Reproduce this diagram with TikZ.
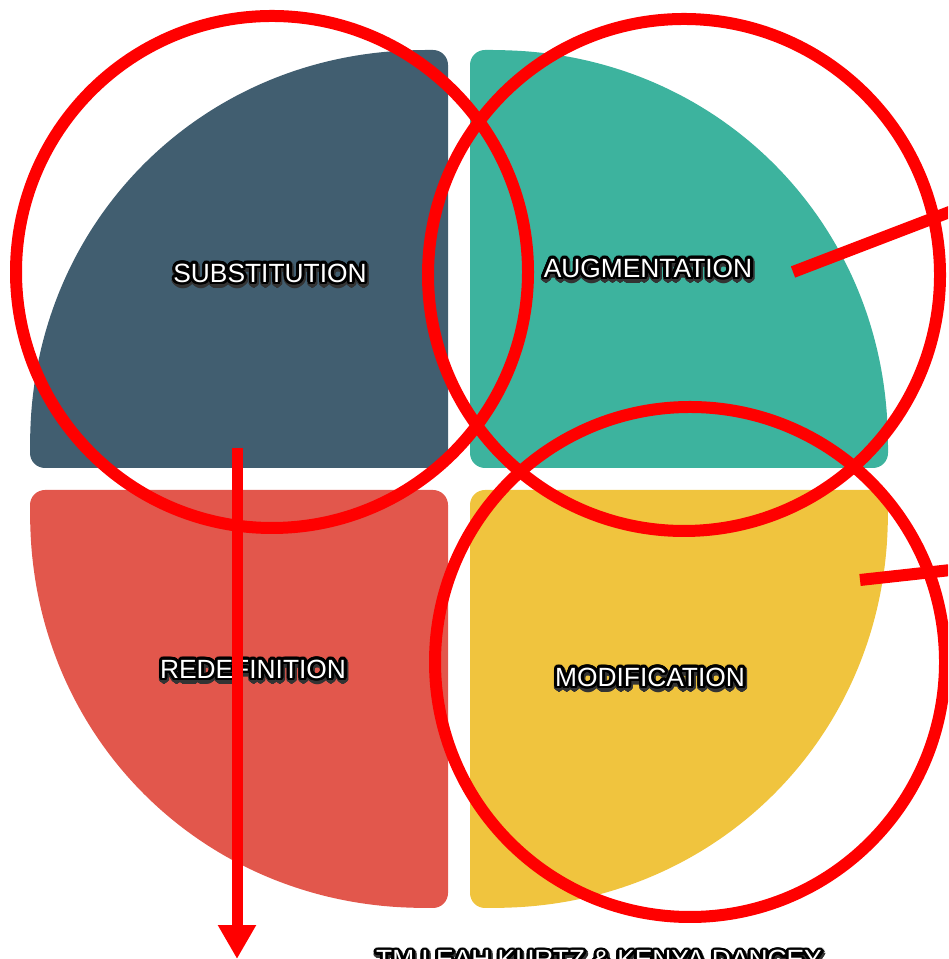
\documentclass[tikz,border=0pt]{standalone}
\usepackage{fontspec}
\setmainfont{Liberation Sans}
\usepackage{contour}
\contourlength{1.6pt}
\contournumber{24}
\usetikzlibrary{arrows.meta}
\definecolor{slate}{HTML}{415E70}
\definecolor{qteal}{HTML}{3DB39E}
\definecolor{qred}{HTML}{E2574C}
\definecolor{qyellow}{HTML}{F0C43E}
\definecolor{markred}{HTML}{FF0000}
\newcommand{\quadpath}{(0,0) -- (418,0) -- (418,35) .. controls (405,250) and (250,405) .. (35,418) -- (0,418) -- cycle}
\newcommand{\glowtext}[1]{\rlap{\raisebox{-1.2pt}{\hspace{0.4pt}\contourlength{2.2pt}\contournumber{16}\contour{black!80}{\textcolor{black!80}{#1}}}}\contour{black}{#1}}
\begin{document}
\begin{tikzpicture}[x=0.02cm,y=0.02cm,
  quad/.style={rounded corners=0.3cm},
  quadtext/.style={font=\fontsize{15}{18}\selectfont, text=white},
  ring/.style={draw=markred, line width=0.24cm}]
\useasboundingbox (0,0) rectangle (948,959);
\clip (0,0) rectangle (948,959);

\fill[slate, quad, shift={(448,491)}, xscale=-1] \quadpath;
\fill[qteal, quad, shift={(470,491)}] \quadpath;
\fill[qred, quad, shift={(448,469)}, xscale=-1, yscale=-1] \quadpath;
\fill[qyellow, quad, shift={(470,469)}, yscale=-1] \quadpath;

\node[quadtext] (subst) at (270,683) {\glowtext{SUBSTITUTION}};
\node[quadtext] (augm) at (648,688) {\glowtext{AUGMENTATION}};
\node[quadtext] (redef) at (253,287) {\glowtext{REDEFINITION}};
\node[quadtext] (modif) at (650,279) {\glowtext{MODIFICATION}};
\node[quadtext, anchor=base] (credit) at (599,-10) {\glowtext{TM LEAH KURTZ \& KENYA DANCEY}};

\draw[ring] (272,687) circle (256);
\draw[ring] (684,684) circle (256);
\draw[ring] (690,297) circle (255);

\coordinate (augm-tail) at (793,687);
\coordinate (augm-out) at (960,751);
\coordinate (modif-tail) at (860,379);
\coordinate (modif-out) at (960,390);
\coordinate (subst-tail) at (237,511);
\coordinate (arrow-end) at (237,0);

\draw[ring] (augm-tail) -- (augm-out);
\draw[ring] (modif-tail) -- (modif-out);
\draw[ring, line width=0.22cm, -{Triangle[width=0.72cm,length=0.68cm]}] (subst-tail) -- (arrow-end);
\end{tikzpicture}
\end{document}
